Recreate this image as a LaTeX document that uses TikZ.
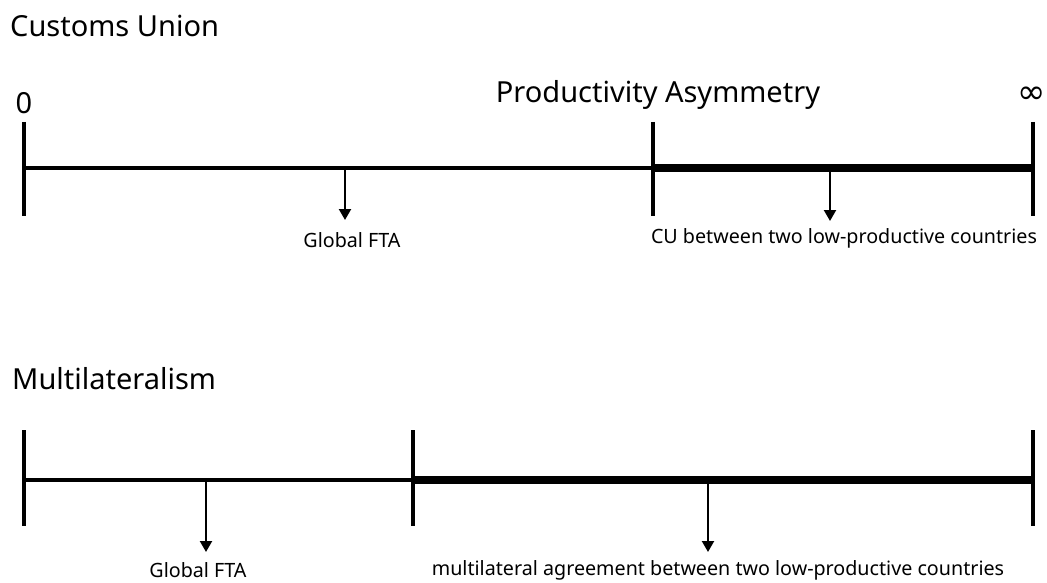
\documentclass[tikz,border=0pt]{standalone}
\usepackage{fontspec}
\setmainfont{Noto Sans}
\newfontfamily\dvfont{DejaVu Sans}
\usetikzlibrary{arrows.meta}
\begin{document}
\begin{tikzpicture}[x=1pt,y=-1pt,
  axis/.style={line width=3.5pt},
  thickaxis/.style={line width=8pt},
  tick/.style={line width=3.5pt},
  pointer/.style={line width=2.2pt,-{Triangle[length=11pt,width=12pt]}},
  title/.style={font=\fontsize{29}{32}\selectfont,anchor=west,inner sep=0pt},
  lab/.style={font=\fontsize{19.7}{22}\selectfont,inner sep=0pt},
  big/.style={font=\fontsize{29}{32}\selectfont,inner sep=0pt}]
\useasboundingbox (0,0) rectangle (1047,583);
% top
\node[title] (t1) at (10,26) {Customs Union};
\node[big] (zero) at (24,103) {0};
\node[inner sep=0pt,font=\dvfont\fontsize{34}{36}\selectfont] (inf) at (1032,95) {∞};
\node[big] (pa) at (658,95) {Productivity Asymmetry};
\coordinate (a0) at (24,168);
\coordinate (a1) at (653,168);
\coordinate (a2) at (1033,168);
\draw[axis] (a0) -- (a1);
\draw[thickaxis] (a1) -- (a2);
\draw[tick] (24,122) -- (24,216);
\draw[tick] (653,122) -- (653,216);
\draw[tick] (1033,122) -- (1033,216);
\node[lab] (g1) at (352,240) {Global FTA};
\node[lab] (c1) at (844,238) {CU between two low-productive countries};
\coordinate (p1) at (345,168);
\coordinate (p2) at (830,168);
\draw[pointer] (p1) -- (345,220);
\draw[pointer] (p2) -- (830,221);
% bottom
\node[title] (t2) at (12,379) {Multilateralism};
\coordinate (b0) at (24,480);
\coordinate (b1) at (413,480);
\coordinate (b2) at (1033,480);
\draw[axis] (b0) -- (b1);
\draw[thickaxis] (b1) -- (b2);
\draw[tick] (24,430) -- (24,526);
\draw[tick] (413,430) -- (413,526);
\draw[tick] (1033,430) -- (1033,526);
\draw[pointer] (206,480) -- (206,552);
\draw[pointer] (708,480) -- (708,552);
\node[lab] (g2) at (198,570) {Global FTA};
\node[lab] (m2) at (718,570) {multilateral agreement between two low-productive countries};
\end{tikzpicture}
\end{document}
